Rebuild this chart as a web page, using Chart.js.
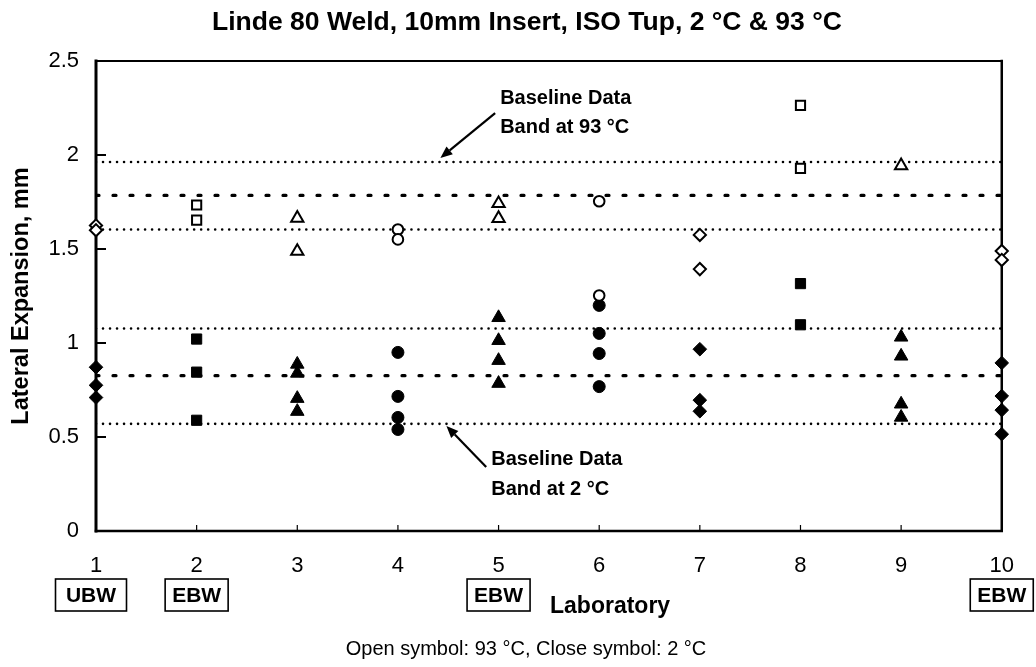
<!DOCTYPE html>
<html>
<head>
<meta charset="utf-8">
<script src="https://cdn.jsdelivr.net/npm/chart.js@4.4.1/dist/chart.umd.min.js"></script>
<style>
  html, body { margin: 0; padding: 0; background: #fff; }
  #wrap { width: 1036px; height: 667px; position: relative; }
</style>
</head>
<body>
<div id="wrap"><canvas id="chart" width="1036" height="667"></canvas></div>
<script>
// Laboratories on the x axis and the marker shape each one uses
const labs = [1, 2, 3, 4, 5, 6, 7, 8, 9, 10];
const labShapes = ['rectRot', 'rect', 'triangle', 'circle', 'triangle', 'circle', 'rectRot', 'rect', 'triangle', 'rectRot'];

// Lateral expansion (mm) per laboratory, tested at 93 °C (open symbols)
const open93 = [
  [1.625, 1.60],
  [1.734, 1.654],
  [1.664, 1.488],
  [1.604, 1.551],
  [1.742, 1.663],
  [1.754, 1.253],
  [1.575, 1.393],
  [2.264, 1.929],
  [1.943],
  [1.489, 1.442]
];

// Lateral expansion (mm) per laboratory, tested at 2 °C (closed symbols)
const closed2 = [
  [0.871, 0.775, 0.71],
  [1.021, 0.845, 0.589],
  [0.887, 0.839, 0.705, 0.636],
  [0.95, 0.716, 0.604, 0.54],
  [1.135, 1.013, 0.907, 0.785],
  [1.2, 1.051, 0.944, 0.768],
  [0.967, 0.696, 0.637],
  [1.316, 1.097],
  [1.031, 0.93, 0.675, 0.605],
  [0.894, 0.718, 0.643, 0.515]
];

// Baseline data bands: lower limit, mean, upper limit
const band93 = [1.604, 1.785, 1.963];
const band2 = [0.57, 0.826, 1.077];

// Axis ticks
const yTicks = [0, 0.5, 1, 1.5, 2, 2.5];

// Weld type tags under some laboratories
const tagLabs = [1, 2, 5, 10];
const tagTexts = ['UBW', 'EBW', 'EBW', 'EBW'];

const chartTitle = 'Linde 80 Weld, 10mm Insert, ISO Tup, 2 °C & 93 °C';
const FONT = "'Liberation Sans', Arial, Helvetica, sans-serif";
const radiusFor = { rect: 7.2, rectRot: 6.8, triangle: 7.8, circle: 6 };

function bandLine(value, dashed) {
  return {
    type: 'line',
    data: [{ x: labs[0], y: value }, { x: labs[labs.length - 1], y: value }],
    borderColor: '#000',
    borderWidth: dashed ? 3.2 : 2.6,
    borderDash: dashed ? [3, 14] : [0.01, 7],
    borderCapStyle: 'round',
    pointRadius: 0,
    fill: false,
    order: 10
  };
}

const datasets = [];
[band93, band2].forEach(band => {
  datasets.push(bandLine(band[0], false));
  datasets.push(bandLine(band[1], true));
  datasets.push(bandLine(band[2], false));
});

labs.forEach((lab, i) => {
  const shape = labShapes[i];
  datasets.push({
    type: 'scatter',
    data: open93[i].map(v => ({ x: lab, y: v })),
    pointStyle: shape,
    pointRadius: radiusFor[shape] - 0.7,
    pointBackgroundColor: '#fff',
    pointBorderColor: '#000',
    pointBorderWidth: 2,
    clip: false,
    order: 1
  });
  datasets.push({
    type: 'scatter',
    data: closed2[i].map(v => ({ x: lab, y: v })),
    pointStyle: shape,
    pointRadius: radiusFor[shape],
    pointBackgroundColor: '#000',
    pointBorderColor: '#000',
    pointBorderWidth: 1,
    clip: false,
    order: 1
  });
});

// Draws the title, plot frame, inward tick marks, band notes and weld tags
const notes = {
  id: 'notes',
  beforeDatasetsDraw(chart) {
    const { ctx, chartArea: a, scales: { x, y } } = chart;
    ctx.save();
    ctx.strokeStyle = '#000';
    ctx.lineCap = 'square';
    ctx.lineWidth = 2;
    ctx.beginPath();
    ctx.moveTo(a.left, a.top); ctx.lineTo(a.right, a.top);
    ctx.stroke();
    ctx.lineWidth = 2.5;
    ctx.beginPath();
    ctx.moveTo(a.right, a.top); ctx.lineTo(a.right, a.bottom); ctx.lineTo(a.left, a.bottom);
    ctx.stroke();
    ctx.lineWidth = 3;
    ctx.beginPath();
    ctx.moveTo(a.left, a.top); ctx.lineTo(a.left, a.bottom);
    ctx.stroke();

    // y tick marks pointing into the plot
    ctx.lineWidth = 2;
    ctx.lineCap = 'butt';
    yTicks.forEach(t => {
      const py = y.getPixelForValue(t);
      ctx.beginPath(); ctx.moveTo(a.left, py); ctx.lineTo(a.left + 10, py); ctx.stroke();
    });
    // x tick marks pointing into the plot
    ctx.lineWidth = 1.2;
    labs.forEach(l => {
      const px = x.getPixelForValue(l);
      ctx.beginPath(); ctx.moveTo(px, a.bottom); ctx.lineTo(px, a.bottom - 6); ctx.stroke();
    });
    ctx.restore();
  },
  afterDraw(chart) {
    const { ctx, chartArea: a, scales: { x, y } } = chart;
    ctx.save();
    ctx.fillStyle = '#000';
    ctx.strokeStyle = '#000';

    // chart title
    ctx.font = 'bold 26.5px ' + FONT;
    ctx.textAlign = 'center';
    ctx.textBaseline = 'middle';
    ctx.fillText(chartTitle, 527, a.top - 38);

    function arrow(x1, y1, x2, y2) {
      const p1 = [x.getPixelForValue(x1), y.getPixelForValue(y1)];
      const p2 = [x.getPixelForValue(x2), y.getPixelForValue(y2)];
      const ang = Math.atan2(p2[1] - p1[1], p2[0] - p1[0]);
      const head = 12, half = 5;
      const bx = p2[0] - head * Math.cos(ang), by = p2[1] - head * Math.sin(ang);
      ctx.lineWidth = 2.2;
      ctx.beginPath(); ctx.moveTo(p1[0], p1[1]); ctx.lineTo(bx, by); ctx.stroke();
      ctx.beginPath();
      ctx.moveTo(p2[0], p2[1]);
      ctx.lineTo(bx + half * Math.sin(ang), by - half * Math.cos(ang));
      ctx.lineTo(bx - half * Math.sin(ang), by + half * Math.cos(ang));
      ctx.closePath(); ctx.fill();
    }
    function text(str, xv, yv, font) {
      ctx.font = font;
      ctx.textAlign = 'left';
      ctx.textBaseline = 'middle';
      ctx.fillText(str, x.getPixelForValue(xv), y.getPixelForValue(yv));
    }

    const noteFont = 'bold 20px ' + FONT;
    text('Baseline Data', 5.016, 2.303, noteFont);
    text('Band at 93 °C', 5.016, 2.149, noteFont);
    arrow(4.966, 2.223, 4.422, 1.984);

    text('Baseline Data', 4.927, 0.378, noteFont);
    text('Band at 2 °C', 4.927, 0.223, noteFont);
    arrow(4.877, 0.340, 4.482, 0.559);

    // weld type tags below the lab numbers
    ctx.font = 'bold 21px ' + FONT;
    ctx.textAlign = 'center';
    ctx.textBaseline = 'middle';
    const top = a.bottom + 48, h = 32;
    tagLabs.forEach((lab, i) => {
      const txt = tagTexts[i];
      const w = txt === 'UBW' ? 71 : 63;
      let cx = x.getPixelForValue(lab);
      if (lab === labs[0]) cx -= 5;
      if (lab === labs[labs.length - 1]) cx = Math.min(cx, chart.width - w / 2 - 1);
      ctx.lineWidth = 1.6;
      ctx.strokeRect(cx - w / 2, top, w, h);
      ctx.fillText(txt, cx, top + h / 2 + 1);
    });

    ctx.font = 'bold 23px ' + FONT;
    ctx.textAlign = 'left';
    ctx.fillText('Laboratory', 550, a.bottom + 76);

    ctx.font = '20px ' + FONT;
    ctx.textAlign = 'center';
    ctx.fillText('Open symbol: 93 °C, Close symbol: 2 °C', 526, a.bottom + 118);
    ctx.restore();
  }
};

new Chart(document.getElementById('chart'), {
  data: { datasets },
  options: {
    responsive: false,
    animation: false,
    events: [],
    layout: { padding: { left: 0, right: 30, top: 61, bottom: 0 } },
    plugins: {
      legend: { display: false },
      tooltip: { enabled: false },
      title: { display: false }
    },
    scales: {
      x: {
        type: 'linear',
        min: labs[0],
        max: labs[labs.length - 1],
        grid: { display: false, drawTicks: false },
        border: { display: false },
        afterFit: s => { s.height = 136; },
        afterBuildTicks: s => { s.ticks = labs.map(v => ({ value: v })); },
        ticks: { color: '#000', padding: 22, font: { family: FONT, size: 22 }, callback: v => String(v) }
      },
      y: {
        type: 'linear',
        min: yTicks[0],
        max: yTicks[yTicks.length - 1],
        grid: { display: false, drawTicks: false },
        border: { display: false },
        afterFit: s => { s.width = 96; },
        afterBuildTicks: s => { s.ticks = yTicks.map(v => ({ value: v })); },
        ticks: { color: '#000', padding: 17, font: { family: FONT, size: 22 }, callback: v => String(v) },
        title: {
          display: true,
          text: 'Lateral Expansion, mm',
          color: '#000',
          font: { family: FONT, size: 23.5, weight: 'bold' },
          padding: { top: 7, bottom: 0 }
        }
      }
    }
  },
  plugins: [notes]
});
</script>
</body>
</html>
